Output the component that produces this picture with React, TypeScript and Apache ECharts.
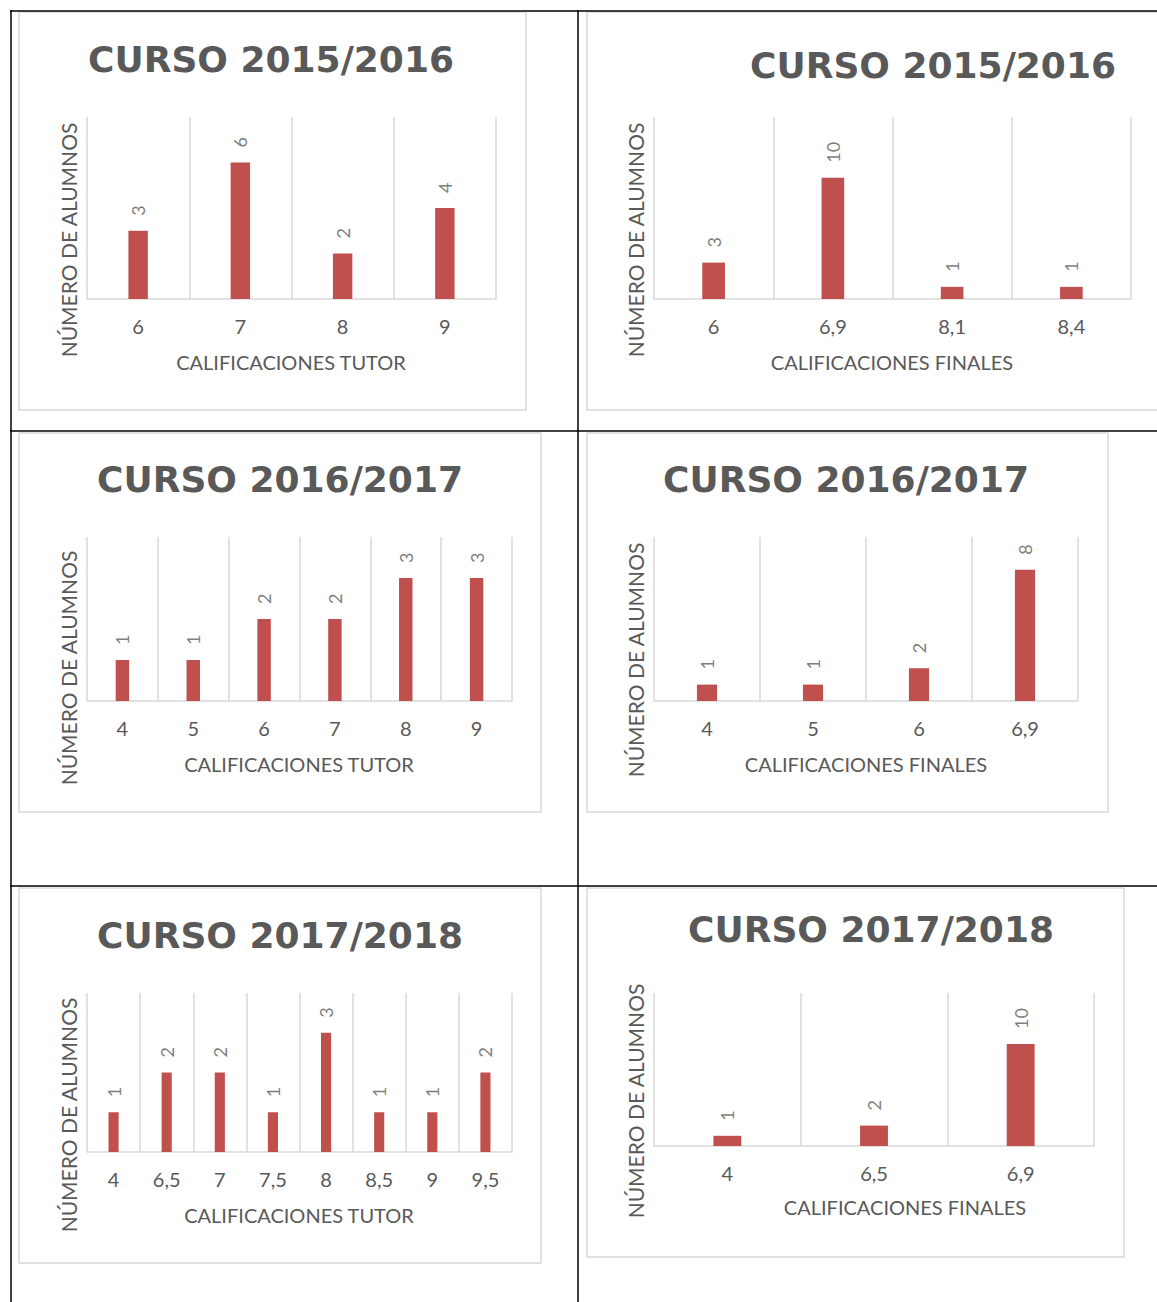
import React, { useEffect, useRef } from "react";
import * as echarts from "echarts";

// ---- Data ----
const CATS_1 = ["6", "7", "8", "9"];
const VALS_1 = [3, 6, 2, 4];
const CATS_2 = ["6", "6,9", "8,1", "8,4"];
const VALS_2 = [3, 10, 1, 1];
const CATS_3 = ["4", "5", "6", "7", "8", "9"];
const VALS_3 = [1, 1, 2, 2, 3, 3];
const CATS_4 = ["4", "5", "6", "6,9"];
const VALS_4 = [1, 1, 2, 8];
const CATS_5 = ["4", "6,5", "7", "7,5", "8", "8,5", "9", "9,5"];
const VALS_5 = [1, 2, 2, 1, 3, 1, 1, 2];
const CATS_6 = ["4", "6,5", "6,9"];
const VALS_6 = [1, 2, 10];

const TITLES = ["CURSO 2015/2016", "CURSO 2015/2016", "CURSO 2016/2017", "CURSO 2016/2017", "CURSO 2017/2018", "CURSO 2017/2018"];
const X_NAMES = ["CALIFICACIONES TUTOR", "CALIFICACIONES FINALES", "CALIFICACIONES TUTOR", "CALIFICACIONES FINALES", "CALIFICACIONES TUTOR", "CALIFICACIONES FINALES"];
const Y_NAME = "NÚMERO DE ALUMNOS";

// ---- Layout (positions/styles) ----
const LAYOUT = [
  { grid: { left: 87, top: 117, width: 409, height: 182 }, max: 8, title: [271, 59], yName: [68, 240], xName: [291, 362], frame: [19, 12, 507, 398] },
  { grid: { left: 654, top: 117, width: 477, height: 182 }, max: 15, title: [933, 65], yName: [635, 240], xName: [892, 362], frame: [587, 12, 600, 398] },
  { grid: { left: 87, top: 537, width: 425, height: 164 }, max: 4, title: [280, 479], yName: [68, 668], xName: [299, 764], frame: [19, 433, 522, 379] },
  { grid: { left: 654, top: 537, width: 424, height: 164 }, max: 10, title: [846, 479], yName: [635, 660], xName: [866, 764], frame: [587, 433, 521, 379] },
  { grid: { left: 87, top: 993, width: 425, height: 159 }, max: 4, title: [280, 935], yName: [68, 1115], xName: [299, 1215], frame: [19, 888, 522, 375] },
  { grid: { left: 654, top: 993, width: 440, height: 153 }, max: 15, title: [871, 929], yName: [635, 1101], xName: [905, 1207], frame: [587, 888, 537, 369] },
];

const CATS = [CATS_1, CATS_2, CATS_3, CATS_4, CATS_5, CATS_6];
const VALS = [VALS_1, VALS_2, VALS_3, VALS_4, VALS_5, VALS_6];

const BAR = "#c0504d";
const GRIDC = "#d9d9d9";
const TEXT = "#595959";
const LABEL = "#7f7f7f";
const FONT = "Lato, 'Open Sans', sans-serif";

export default function App() {
  const ref = useRef<HTMLDivElement>(null);
  useEffect(() => {
    if (!ref.current) return;
    const chart = echarts.init(ref.current, null, { renderer: "svg" });

    const graphic: any[] = [];
    // chart frames
    LAYOUT.forEach((l) => {
      graphic.push({
        type: "rect",
        shape: { x: l.frame[0], y: l.frame[1], width: l.frame[2], height: l.frame[3] },
        style: { fill: "transparent", stroke: GRIDC, lineWidth: 1.5 },
        z: -10,
      });
    });
    // table lines
    const tl = (x1: number, y1: number, x2: number, y2: number) => ({
      type: "line",
      shape: { x1, y1, x2, y2 },
      style: { stroke: "#000", lineWidth: 1.5 },
      z: 10,
    });
    graphic.push(tl(10, 11, 1157, 11));
    graphic.push(tl(10, 431, 1157, 431));
    graphic.push(tl(10, 886, 1157, 886));
    graphic.push(tl(11, 10, 11, 1302));
    graphic.push(tl(578, 10, 578, 1302));

    LAYOUT.forEach((l, i) => {
      graphic.push({
        type: "text",
        x: l.title[0],
        y: l.title[1],
        style: {
          text: TITLES[i],
          fontFamily: "'DejaVu Sans', sans-serif",
          fontWeight: "bold",
          fontSize: 36,
          fill: TEXT,
          align: "center",
          verticalAlign: "middle",
        },
      });
      graphic.push({
        type: "text",
        x: l.yName[0],
        y: l.yName[1],
        rotation: Math.PI / 2,
        style: {
          text: Y_NAME,
          fontFamily: FONT,
          fontSize: 21,
          fill: TEXT,
          align: "center",
          verticalAlign: "middle",
        },
      });
      graphic.push({
        type: "text",
        x: l.xName[0],
        y: l.xName[1],
        style: {
          text: X_NAMES[i],
          fontFamily: FONT,
          fontSize: 20,
          fill: TEXT,
          align: "center",
          verticalAlign: "middle",
        },
      });
    });

    const option: any = {
      animation: false,
      backgroundColor: "#fff",
      grid: LAYOUT.map((l) => ({ ...l.grid, containLabel: false })),
      xAxis: LAYOUT.map((l, i) => ({
        type: "category",
        gridIndex: i,
        data: CATS[i],
        axisLine: { show: true, lineStyle: { color: GRIDC, width: 1.5 } },
        axisTick: { show: false },
        splitLine: { show: true, interval: 0, lineStyle: { color: GRIDC, width: 1.5 } },
        axisLabel: { interval: 0, margin: 17, color: TEXT, fontFamily: FONT, fontSize: 20 },
      })),
      yAxis: LAYOUT.map((l, i) => ({
        type: "value",
        gridIndex: i,
        min: 0,
        max: l.max,
        show: false,
      })),
      series: LAYOUT.map((l, i) => ({
        type: "bar",
        xAxisIndex: i,
        yAxisIndex: i,
        data: VALS[i],
        barWidth: "19%",
        itemStyle: { color: BAR },
        label: {
          show: true,
          position: "top",
          distance: 15,
          rotate: 90,
          align: "left",
          verticalAlign: "middle",
          color: LABEL,
          fontFamily: FONT,
          fontSize: 18,
        },
      })),
      graphic,
    };
    chart.setOption(option);
    return () => chart.dispose();
  }, []);

  return (
    <div
      ref={ref}
      style={{ position: "absolute", left: 0, top: 0, width: 1157, height: 1302 }}
    />
  );
}
